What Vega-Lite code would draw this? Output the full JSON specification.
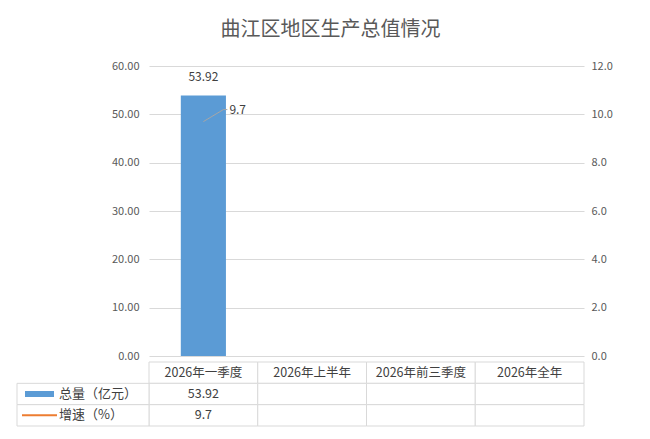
{
  "$schema": "https://vega.github.io/schema/vega-lite/v6.json",
  "background": "white",
  "padding": {"left": 16, "top": 20, "right": 10, "bottom": 5},
  "title": {"text": "曲江区地区生产总值情况", "fontSize": 20, "fontWeight": "normal", "color": "#595959", "anchor": "middle", "offset": 20, "dx": 16},
  "config": {"view": {"stroke": null}, "font": "Noto Sans CJK SC"},
  "spacing": 0,
  "datasets": {
    "main": [
      {"cat": "2026年一季度", "总量（亿元）": 53.92, "增速（%）": 9.7},
      {"cat": "2026年上半年", "总量（亿元）": null, "增速（%）": null},
      {"cat": "2026年前三季度", "总量（亿元）": null, "增速（%）": null},
      {"cat": "2026年全年", "总量（亿元）": null, "增速（%）": null}
    ]
  },
  "vconcat": [
    {
      "width": 435,
      "height": 290,
      "data": {"name": "main"},
      "encoding": {
        "x": {"field": "cat", "type": "nominal", "sort": null, "axis": null,
          "scale": {"domain": ["2026年一季度", "2026年上半年", "2026年前三季度", "2026年全年"], "paddingInner": 0.585, "paddingOuter": 0.2925}}
      },
      "layer": [
        {
          "layer": [
            {
              "mark": {"type": "bar", "color": "#5b9bd5"},
              "encoding": {
                "y": {"field": "总量（亿元）", "type": "quantitative", "scale": {"domain": [0, 60], "nice": false},
                  "axis": {"values": [0, 10, 20, 30, 40, 50, 60], "format": ".2f", "title": null, "domain": false, "ticks": false,
                    "labelPadding": 10, "labelColor": "#595959", "labelFontSize": 11, "gridColor": "#d9d9d9"}}
              }
            },
            {
              "mark": {"type": "text", "dy": -18, "fontSize": 12, "color": "#404040"},
              "encoding": {
                "y": {"field": "总量（亿元）", "type": "quantitative"},
                "text": {"field": "总量（亿元）", "type": "quantitative"}
              }
            }
          ]
        },
        {
          "layer": [
            {
              "mark": {"type": "rule", "color": "#a6a6a6", "x2Offset": 20, "y2Offset": -12},
              "encoding": {
                "x": {"field": "cat", "type": "nominal", "sort": null, "bandPosition": 0.5},
                "x2": {"field": "cat", "bandPosition": 0.5},
                "y": {"field": "增速（%）", "type": "quantitative", "scale": {"domain": [0, 12], "nice": false},
                  "axis": {"orient": "right", "values": [0, 2, 4, 6, 8, 10, 12], "format": ".1f", "title": null, "domain": false,
                    "ticks": false, "grid": false, "labelPadding": 7, "labelColor": "#595959", "labelFontSize": 11}},
                "y2": {"field": "增速（%）"}
              }
            },
            {
              "mark": {"type": "rule", "color": "#a6a6a6", "xOffset": 20, "x2Offset": 24, "yOffset": -12, "y2Offset": -12},
              "encoding": {
                "x": {"field": "cat", "type": "nominal", "sort": null, "bandPosition": 0.5},
                "x2": {"field": "cat", "bandPosition": 0.5},
                "y": {"field": "增速（%）", "type": "quantitative"},
                "y2": {"field": "增速（%）"}
              }
            },
            {
              "mark": {"type": "text", "align": "left", "baseline": "middle", "dx": 26, "dy": -12, "fontSize": 12, "color": "#404040"},
              "encoding": {
                "y": {"field": "增速（%）", "type": "quantitative"},
                "text": {"field": "增速（%）", "type": "quantitative"}
              }
            }
          ]
        }
      ],
      "resolve": {"scale": {"y": "independent"}}
    },
    {
      "width": 435,
      "height": 64,
      "data": {"name": "main"},
      "encoding": {
        "x": {"field": "cat", "type": "nominal", "sort": null, "axis": null, "scale": {"padding": 0}}
      },
      "layer": [
        {
          "mark": {"type": "rect", "fill": "white", "stroke": "#d9d9d9", "strokeWidth": 1},
          "encoding": {
            "y": {"datum": "head", "type": "nominal", "axis": null, "scale": {"domain": ["head", "总量（亿元）", "增速（%）"], "padding": 0}}
          }
        },
        {
          "mark": {"type": "text", "fontSize": 12.5, "color": "#404040"},
          "encoding": {
            "y": {"datum": "head", "type": "nominal"},
            "text": {"field": "cat", "type": "nominal"}
          }
        },
        {
          "transform": [{"fold": ["总量（亿元）", "增速（%）"], "as": ["row", "value"]}],
          "encoding": {"y": {"field": "row", "type": "nominal"}},
          "layer": [
            {
              "mark": {"type": "rect", "fill": "white", "stroke": "#d9d9d9", "strokeWidth": 1}
            },
            {
              "transform": [{"filter": "isValid(datum.value)"}],
              "mark": {"type": "text", "fontSize": 12.5, "color": "#404040"},
              "encoding": {"text": {"field": "value", "type": "quantitative"}}
            },
            {
              "transform": [{"filter": "datum.cat == '2026年一季度'"}],
              "mark": {"type": "rect", "fill": "white", "stroke": "#d9d9d9", "strokeWidth": 1, "xOffset": -132},
              "encoding": {
                "x": {"field": "cat", "type": "nominal", "sort": null, "bandPosition": 0},
                "x2": {"field": "cat", "bandPosition": 0}
              }
            },
            {
              "transform": [{"filter": "datum.cat == '2026年一季度'"}],
              "mark": {"type": "text", "align": "left", "fontSize": 13, "color": "#404040", "dx": -90},
              "encoding": {
                "x": {"field": "cat", "type": "nominal", "sort": null, "bandPosition": 0},
                "text": {"field": "row", "type": "nominal"}
              }
            },
            {
              "transform": [{"filter": "datum.cat == '2026年一季度' && datum.row == '总量（亿元）'"}],
              "mark": {"type": "rule", "color": "#5b9bd5", "strokeWidth": 6, "strokeCap": "butt", "xOffset": -124, "x2Offset": -95},
              "encoding": {
                "x": {"field": "cat", "type": "nominal", "sort": null, "bandPosition": 0},
                "x2": {"field": "cat", "bandPosition": 0}
              }
            },
            {
              "transform": [{"filter": "datum.cat == '2026年一季度' && datum.row == '增速（%）'"}],
              "mark": {"type": "rule", "color": "#ed7d31", "strokeWidth": 2, "strokeCap": "butt", "xOffset": -127, "x2Offset": -92},
              "encoding": {
                "x": {"field": "cat", "type": "nominal", "sort": null, "bandPosition": 0},
                "x2": {"field": "cat", "bandPosition": 0}
              }
            }
          ]
        }
      ]
    }
  ]
}
